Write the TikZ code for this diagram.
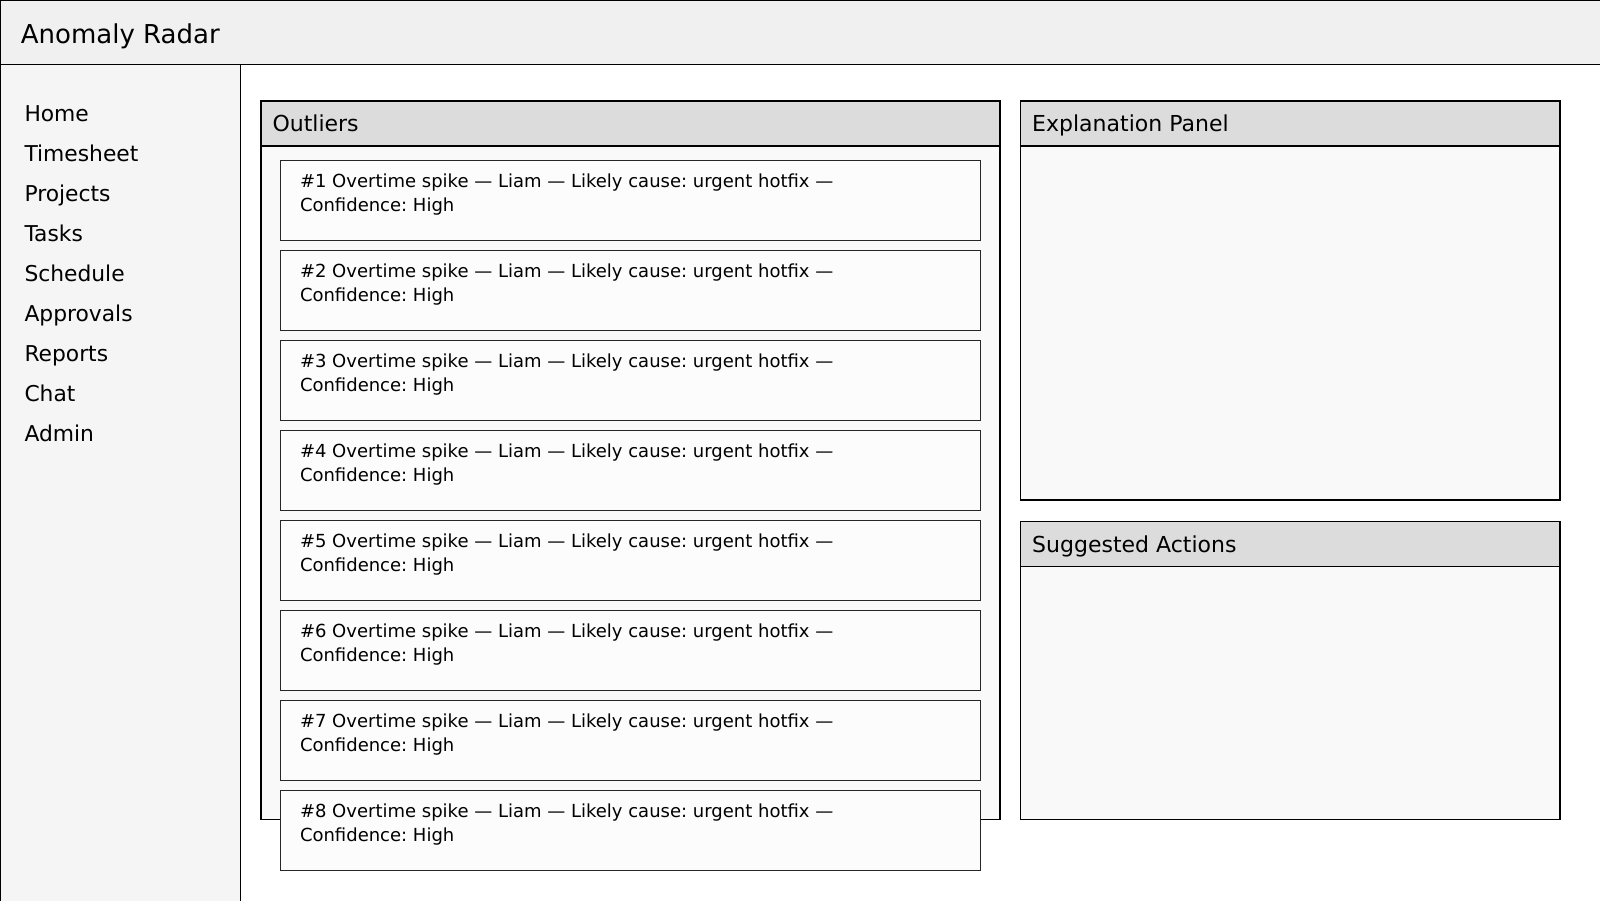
\documentclass[tikz,border=0pt]{standalone}
\usepackage{fontspec}
\setmainfont{DejaVu Sans}
\usepackage{xcolor}
\usetikzlibrary{positioning}
\frenchspacing

\definecolor{barfill}{HTML}{F0F0F0}
\definecolor{sidefill}{HTML}{F5F5F5}
\definecolor{headfill}{HTML}{DCDCDC}
\definecolor{bodyfill}{HTML}{F9F9F9}
\definecolor{cardfill}{HTML}{FCFCFC}

\begin{document}
\begin{tikzpicture}[
    x=1pt, y=-1pt,
    topbar/.style={rectangle, draw, fill=barfill, line width=1pt, inner sep=0, outer sep=0, anchor=north west},
    sidebar/.style={rectangle, draw, fill=sidefill, line width=1pt, inner sep=0, outer sep=0, anchor=north west},
    panel/.style={rectangle, draw, fill=bodyfill, line width=1.6pt, inner sep=0, outer sep=0, anchor=north west},
    panelhead/.style={rectangle, draw, fill=headfill, line width=1.6pt, inner sep=0, outer sep=0, anchor=north west, minimum height=45},
    card/.style={rectangle, draw=black!85, fill=cardfill, line width=0.9pt, inner sep=0, outer sep=0, anchor=north west, minimum width=700.6, minimum height=80.8},
    apptitle/.style={anchor=base west, inner sep=0, font=\fontsize{26}{30}\selectfont},
    navitem/.style={anchor=base west, inner sep=0, font=\fontsize{21.8}{26}\selectfont},
    paneltitle/.style={anchor=base west, inner sep=0, font=\fontsize{22}{26}\selectfont},
    cardtext/.style={anchor=north west, inner sep=0, align=left, font=\fontsize{18}{24.5}\selectfont}
]
\useasboundingbox (0,0) rectangle (1600,900);

% frame
\node[topbar, minimum width=1600, minimum height=64.3] (header) at (0,0) {};
\node[sidebar, minimum width=240.5, minimum height=840] (side) at (0,64.3) {};
\node[apptitle] (title) at (20.7,43.3) {Anomaly Radar};

% navigation
\node[navitem] (home) at (24.3,121.7) {Home};
\node[navitem] (timesheet) at (24.3,161.7) {Timesheet};
\node[navitem] (projects) at (24.3,201.7) {Projects};
\node[navitem] (tasks) at (24.3,241.7) {Tasks};
\node[navitem] (schedule) at (24.3,281.7) {Schedule};
\node[navitem] (approvals) at (24.3,321.7) {Approvals};
\node[navitem] (reports) at (24.3,361.7) {Reports};
\node[navitem] (chat) at (24.3,401.7) {Chat};
\node[navitem] (admin) at (24.3,441.7) {Admin};

% panels
\node[panel, minimum width=739.3, minimum height=718.7] (outliers) at (260.7,100.7) {};
\node[panelhead, minimum width=739.3] (outliershead) at (260.7,100.7) {};
\node[paneltitle] (outlierstitle) at (272.3,131.8) {Outliers};

\node[panel, minimum width=539.8, minimum height=399.3] (explain) at (1020.4,100.7) {};
\node[panelhead, minimum width=539.8] (explainhead) at (1020.4,100.7) {};
\node[paneltitle] (explaintitle) at (1032,131.8) {Explanation Panel};

\node[panel, minimum width=539.8, minimum height=298] (actions) at (1020.4,521.4) {};
\node[panelhead, minimum width=539.8] (actionshead) at (1020.4,521.4) {};
\node[paneltitle] (actionstitle) at (1032,552.5) {Suggested Actions};

% outlier cards
\node[card] (card1) at (280,160) {};
\node[cardtext] (text1) at (299.8,173.4) {\#1 Overtime spike — Liam — Likely cause: urgent hotfix —\\Confidence: High};
\node[card] (card2) at (280,250) {};
\node[cardtext] (text2) at (299.8,263.4) {\#2 Overtime spike — Liam — Likely cause: urgent hotfix —\\Confidence: High};
\node[card] (card3) at (280,340) {};
\node[cardtext] (text3) at (299.8,353.4) {\#3 Overtime spike — Liam — Likely cause: urgent hotfix —\\Confidence: High};
\node[card] (card4) at (280,430) {};
\node[cardtext] (text4) at (299.8,443.4) {\#4 Overtime spike — Liam — Likely cause: urgent hotfix —\\Confidence: High};
\node[card] (card5) at (280,520) {};
\node[cardtext] (text5) at (299.8,533.4) {\#5 Overtime spike — Liam — Likely cause: urgent hotfix —\\Confidence: High};
\node[card] (card6) at (280,610) {};
\node[cardtext] (text6) at (299.8,623.4) {\#6 Overtime spike — Liam — Likely cause: urgent hotfix —\\Confidence: High};
\node[card] (card7) at (280,700) {};
\node[cardtext] (text7) at (299.8,713.4) {\#7 Overtime spike — Liam — Likely cause: urgent hotfix —\\Confidence: High};
\node[card] (card8) at (280,790) {};
\node[cardtext] (text8) at (299.8,803.4) {\#8 Overtime spike — Liam — Likely cause: urgent hotfix —\\Confidence: High};

\end{tikzpicture}
\end{document}
